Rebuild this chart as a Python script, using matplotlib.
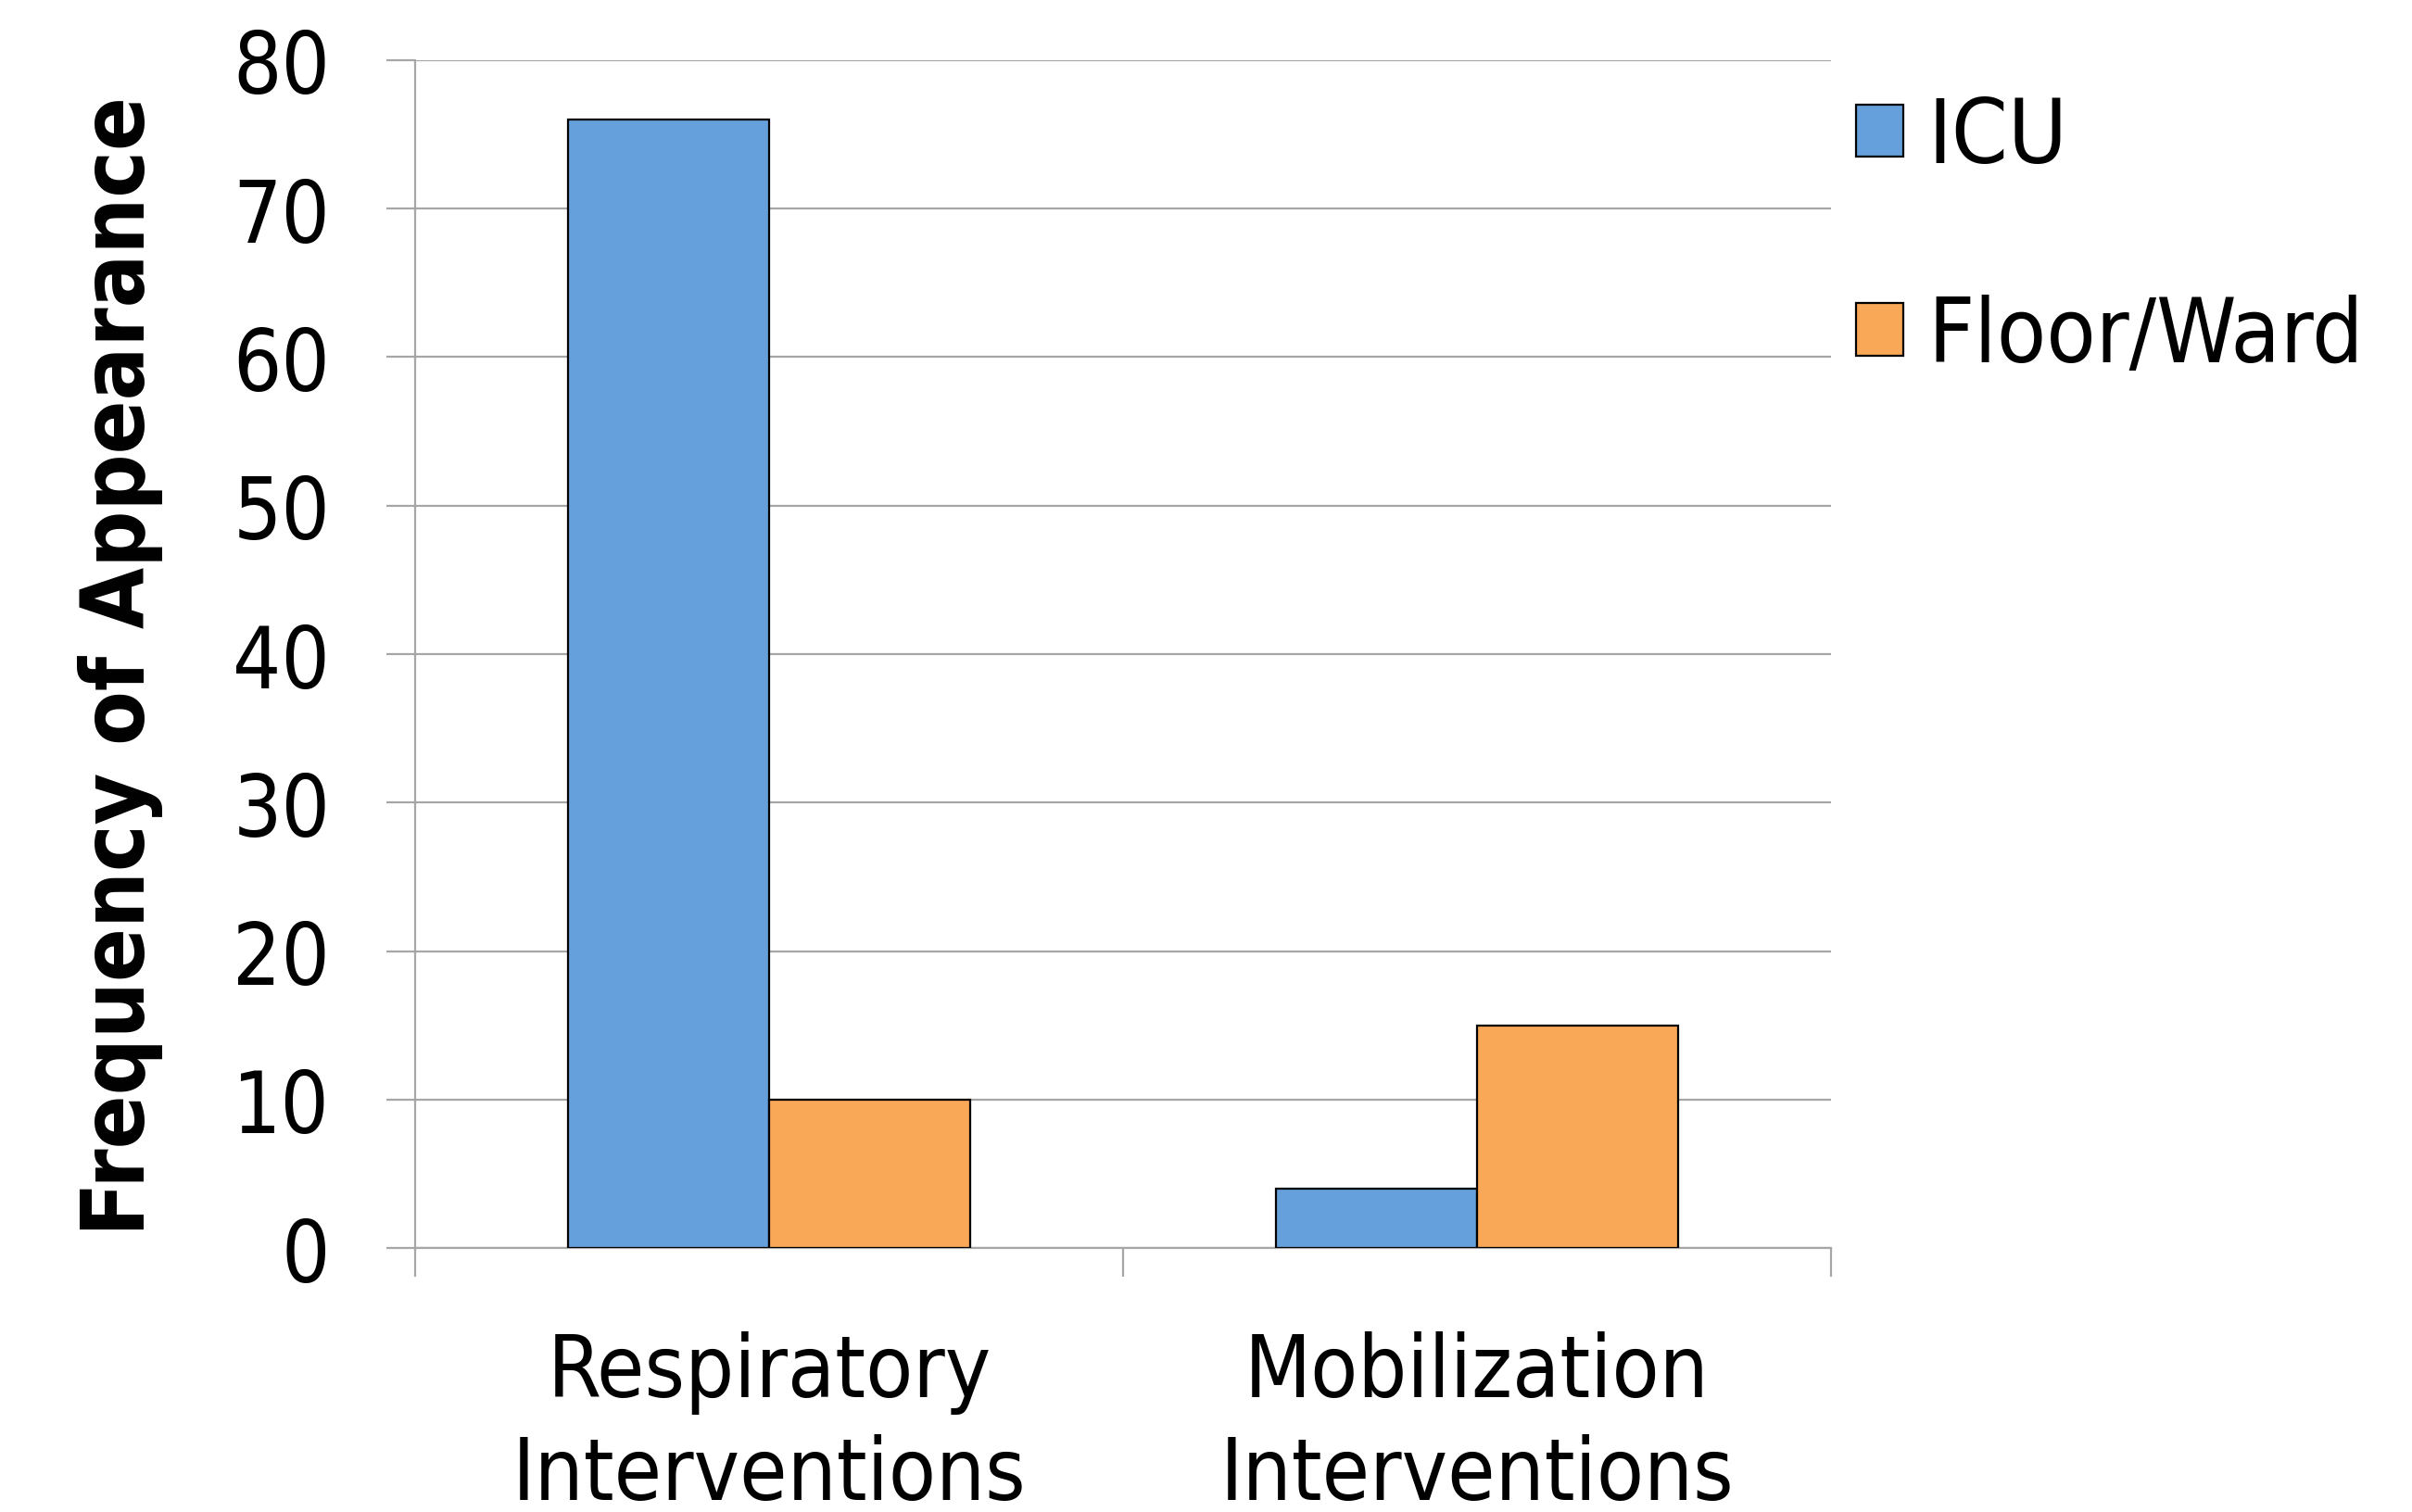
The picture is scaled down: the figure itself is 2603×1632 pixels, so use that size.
import numpy as np
import matplotlib
matplotlib.use("Agg")
import matplotlib.pyplot as plt

categories = ["Respiratory\nInterventions", "Mobilization\nInterventions"]
series_names = ["ICU", "Floor/Ward"]
icu_values = [76, 4]
ward_values = [10, 15]
y_ticks = [0, 10, 20, 30, 40, 50, 60, 70, 80]

blue = "#65A0DC"
orange = "#F9A857"
grid_grey = "#A6A6A6"

plt.rcParams['font.family'] = ['DejaVu Sans']
plt.rcParams['font.stretch'] = 'condensed'

fig = plt.figure(figsize=(26.03, 16.33), dpi=100)
ax = fig.add_axes([0.1721, 0.1745, 0.587, 0.7851])

x = np.arange(len(categories))
w = 0.284
ax.bar(x - w / 2, icu_values, w, color=blue, edgecolor="black", linewidth=1.6,
       label=series_names[0], zorder=3)
ax.bar(x + w / 2, ward_values, w, color=orange, edgecolor="black", linewidth=1.6,
       label=series_names[1], zorder=3)

ax.set_xlim(-0.5, len(categories) - 0.5)
ax.set_ylim(0, 80)
ax.set_yticks(y_ticks)
ax.yaxis.grid(True, color=grid_grey, linewidth=1.6, zorder=0)

# category boundaries get the tick marks, names sit on minor ticks
ax.set_xticks(np.arange(len(categories) + 1) - 0.5)
ax.set_xticklabels([])
ax.set_xticks(x, minor=True)
ax.set_xticklabels(categories, minor=True, fontsize=67, linespacing=1.3)
ax.tick_params(axis="x", which="minor", length=0, pad=64)
ax.tick_params(axis="x", which="major", length=22, width=1.6, color=grid_grey)
ax.tick_params(axis="y", length=22, width=1.6, color=grid_grey, labelsize=66, pad=44)

for side in ["top", "right"]:
    ax.spines[side].set_visible(False)
for side in ["left", "bottom"]:
    ax.spines[side].set_color(grid_grey)
    ax.spines[side].set_linewidth(1.6)

ax.set_ylabel("Frequency of Appearance", fontsize=68.5, fontweight="bold")
ax.yaxis.set_label_coords(-0.178, 0.491)

fig.legend(loc="upper left", bbox_to_anchor=(0.7695, 0.9367), frameon=False,
           fontsize=70, handlelength=0.52, handleheight=0.52, handletextpad=0.28,
           labelspacing=1.25, borderpad=0, borderaxespad=0)

fig.savefig("out.png", dpi=100)
